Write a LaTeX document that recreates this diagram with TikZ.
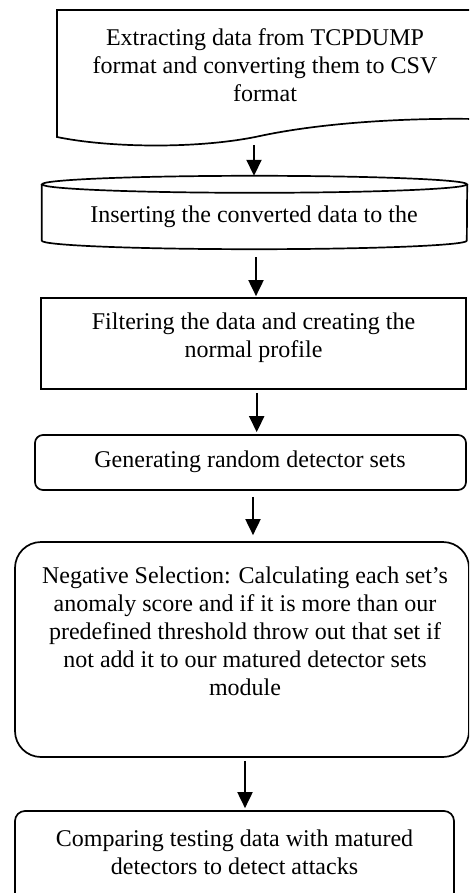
\documentclass[tikz,border=0pt]{standalone}
\usepackage{fontspec}
\setmainfont{Liberation Serif}
\usetikzlibrary{arrows.meta}
\begin{document}
\begin{tikzpicture}[x=1pt,y=-1pt,
  line/.style={line width=1.7pt},
  box/.style={draw, line width=1.7pt, inner sep=0pt},
  txt/.style={font=\fontsize{24}{28}\selectfont, align=center, inner sep=0pt},
  arr/.style={line width=1.9pt, -{Triangle[length=16pt,width=15pt]}}]
\useasboundingbox (0,0) rectangle (469,893);
\clip (0,0) rectangle (469,893);

% document shape
\draw[line] (57,10) -- (475,10) -- (475,119) .. controls (420,118) and (330,121) .. (260,136) .. controls (200,149) and (110,148) .. (57,137) -- cycle;
\node[txt] (doc) at (265,65) {Extracting data from TCPDUMP\\format and converting them to CSV\\format};
\coordinate (docb) at (254,145);

% cylinder
\node[inner sep=0pt, minimum width=425pt, minimum height=73pt] (cyl) at (254.5,212.5) {};
\draw[line] ([yshift=-8.5pt]cyl.north west) -- ([yshift=8.5pt]cyl.south west) arc[start angle=180,end angle=360,x radius=212.5pt,y radius=8.5pt] -- ([yshift=-8.5pt]cyl.north east);
\draw[line] ([yshift=-8.5pt]cyl.north) ellipse[x radius=212.5pt,y radius=8.5pt];
\node[txt] (t2) at (254,217) {Inserting the converted data to the};

% boxes
\node[box, minimum width=425pt, minimum height=91pt] (b3) at (253.5,343.5) {};
\node[txt] (t3) at (253.5,338) {Filtering the data and creating the\\normal profile};

\node[box, rounded corners=8pt, minimum width=431pt, minimum height=55pt] (b4) at (250.5,462.5) {};
\node[txt] (t4) at (250,462) {Generating random detector sets};

\node[box, rounded corners=26pt, minimum width=454pt, minimum height=215pt] (b5) at (242,649.5) {};
\node[txt] (t5) at (245,631) {Negative Selection: Calculating each set’s\\anomaly score and if it is more than our\\predefined threshold throw out that set if\\not add it to our matured detector sets\\module};

\node[box, rounded corners=10pt, minimum width=439pt, minimum height=100pt] (b6) at (234.5,861) {};
\node[txt] (t6) at (234.5,852) {Comparing testing data with matured\\detectors to detect attacks};

% arrows
\draw[arr] (docb) -- (docb |- cyl.north);
\draw[arr, shorten <=8pt, shorten >=1pt] ([xshift=1.5pt]cyl.south) -- ([xshift=1.5pt]cyl.south |- b3.north);
\draw[arr, shorten <=3pt, shorten >=2pt] ([xshift=3.2pt]b3.south) -- ([xshift=3.2pt]b3.south |- b4.north);
\draw[arr, shorten <=6pt, shorten >=6pt] ([xshift=2.5pt]b4.south) -- ([xshift=2.5pt]b4.south |- b5.north);
\draw[arr, shorten <=3pt, shorten >=2pt] ([xshift=3pt]b5.south) -- ([xshift=3pt]b5.south |- b6.north);
\end{tikzpicture}
\end{document}
